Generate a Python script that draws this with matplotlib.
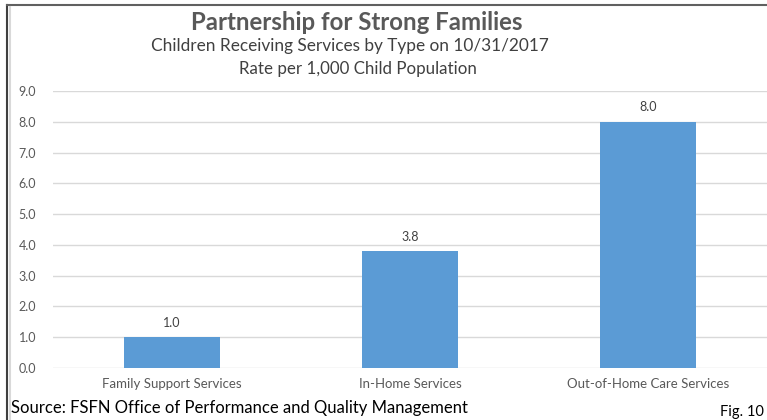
import matplotlib
matplotlib.use("Agg")
import matplotlib.pyplot as plt
from matplotlib.lines import Line2D

categories = ["Family Support Services", "In-Home Services", "Out-of-Home Care Services"]
values = [1.0, 3.8, 8.0]
yticks = [0.0, 1.0, 2.0, 3.0, 4.0, 5.0, 6.0, 7.0, 8.0, 9.0]

title = "Partnership for Strong Families"
subtitle1 = "Children Receiving Services by Type on 10/31/2017"
subtitle2 = "Rate per 1,000 Child Population"
source = "Source: FSFN Office of Performance and Quality Management"
fig_label = "Fig. 10"

plt.rcParams['font.family'] = ['Lato', 'DejaVu Sans']

W, H = 767, 420
fig = plt.figure(figsize=(W / 100, H / 100), dpi=100)
fig.patch.set_facecolor("white")

ax = fig.add_axes([53 / W, 1 - 368 / H, 1 - 53 / W, (368 - 91) / H])
x = list(range(len(categories)))
bars = ax.bar(x, values, width=0.40, color="#5B9BD5", zorder=3)
ax.set_xlim(-0.5, len(categories) - 0.5)
ax.set_ylim(0, 9)
ax.set_yticks(yticks)
ax.set_yticklabels([f"{v:.1f}" for v in yticks], fontsize=9, color="#595959")
ax.set_xticks(x)
ax.set_xticklabels(categories, fontsize=9.5, color="#595959")
ax.tick_params(axis="both", length=0, pad=12)
ax.tick_params(axis="x", pad=7)
ax.yaxis.grid(True, color="#D9D9D9", linewidth=1, zorder=0)
for s in ax.spines.values():
    s.set_visible(False)

for xi, v in zip(x, values):
    ax.annotate(f"{v:.1f}", (xi, v), xytext=(0, 6), textcoords="offset points",
                ha="center", va="bottom", fontsize=9, color="#404040")

fig.text(357 / W, 1 - 22 / H, title, ha="center", va="center", fontsize=17.3,
         fontweight="bold", color="#595959")
fig.text(350 / W, 1 - 46 / H, subtitle1, ha="center", va="center", fontsize=12.4,
         color="#404040")
fig.text(358 / W, 1 - 69 / H, subtitle2, ha="center", va="center", fontsize=12.2,
         color="#404040")
fig.text(11 / W, 1 - 408 / H, source, ha="left", va="center", fontsize=12,
         color="black")
fig.text(764 / W, 1 - 412 / H, fig_label, ha="right", va="center", fontsize=10.5,
         color="black")

# frame lines
fig.add_artist(Line2D([7 / W, 7 / W], [0, 1 - 5 / H], color="#404040", lw=1.5,
                      transform=fig.transFigure))
fig.add_artist(Line2D([7 / W, 1], [1 - 5 / H, 1 - 5 / H], color="#606060", lw=1.5,
                      transform=fig.transFigure))
fig.add_artist(Line2D([10 / W, 10 / W], [0, 1 - 7 / H], color="#D9D9D9", lw=1.5,
                      transform=fig.transFigure))

fig.savefig("out.png", dpi=100)
